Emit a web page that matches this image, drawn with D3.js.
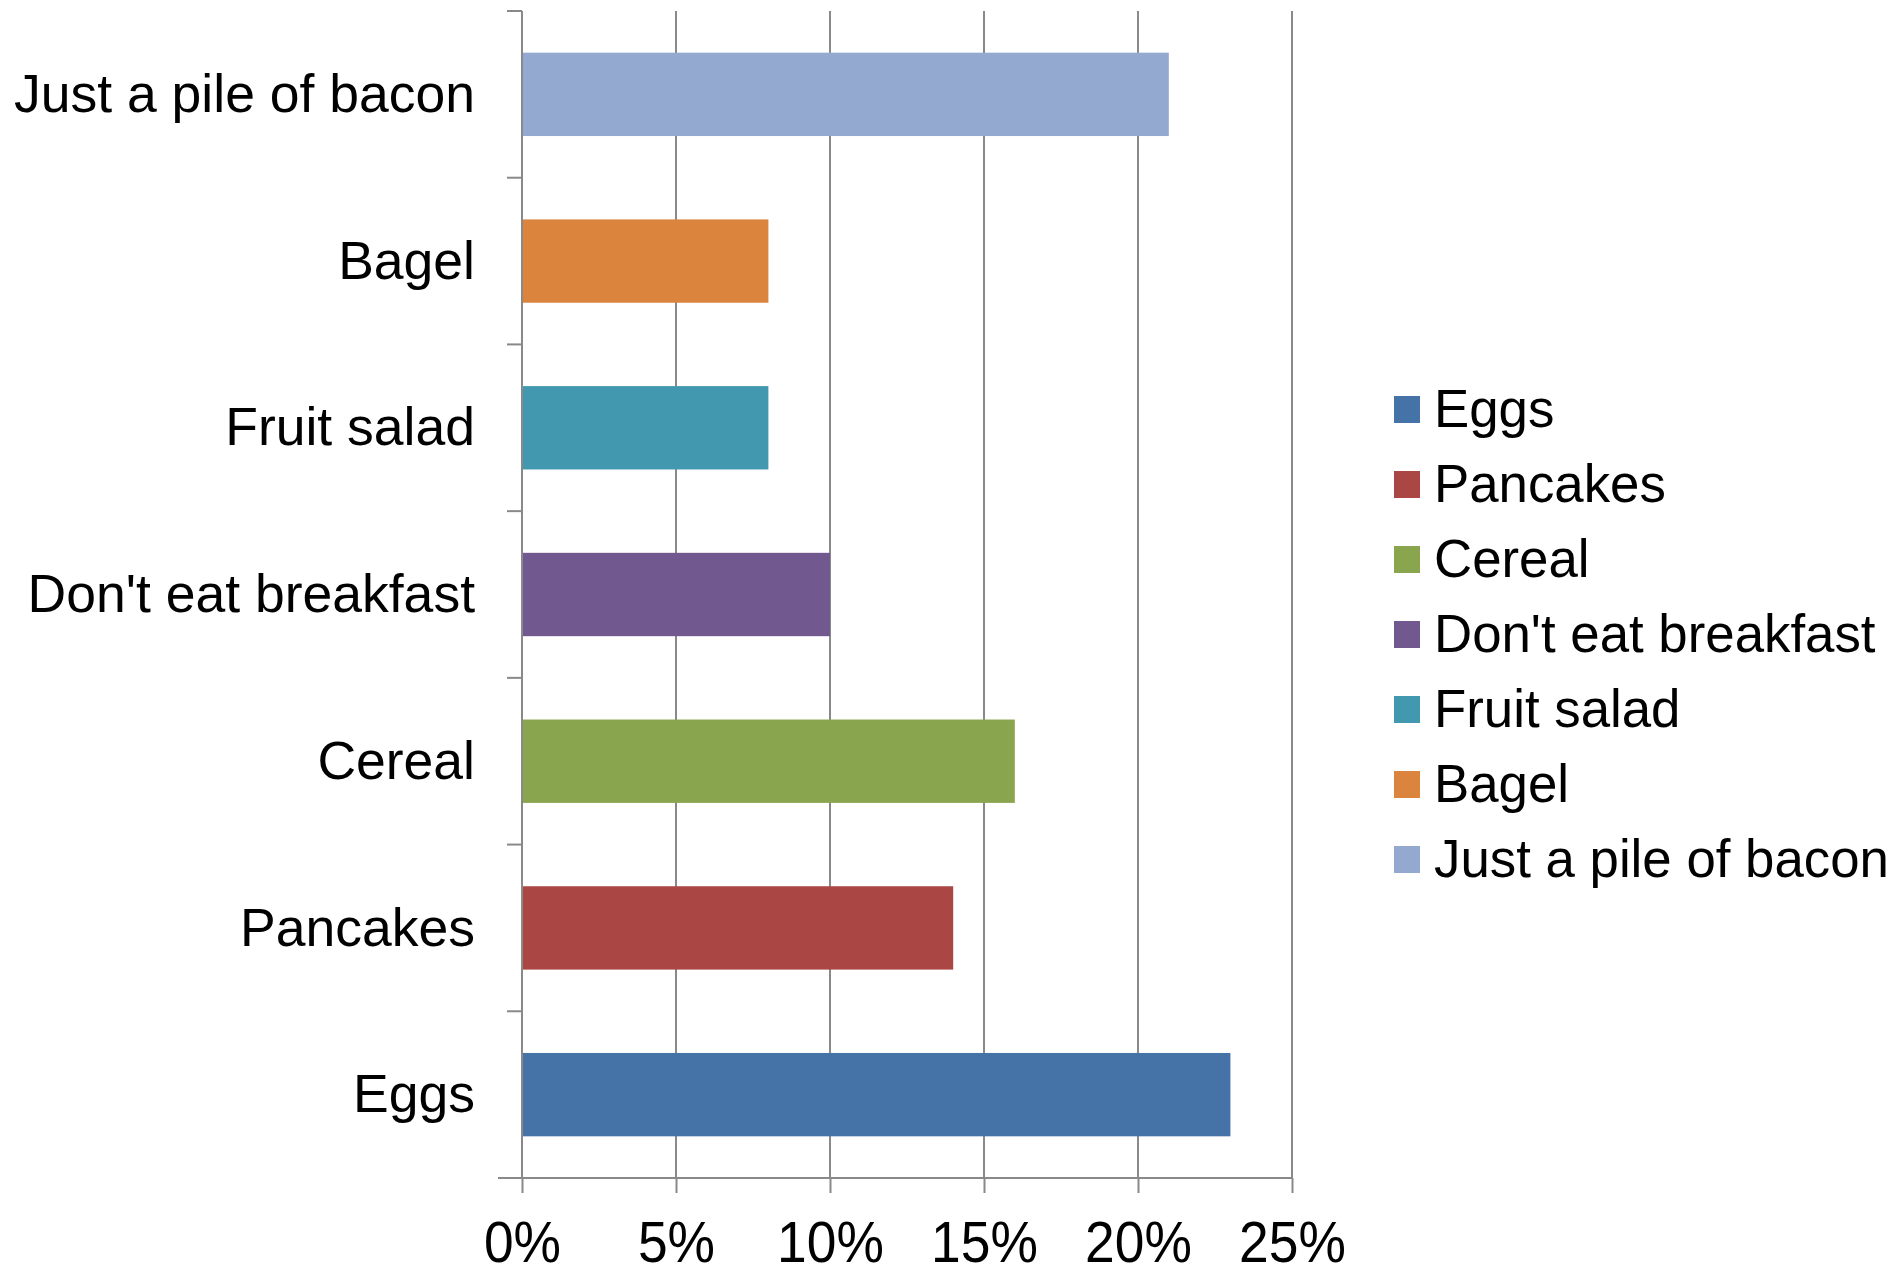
<!DOCTYPE html>
<html lang="en">
<head>
<meta charset="UTF-8">
<script src="https://d3js.org/d3.v7.min.js"></script>
<style>
  body { margin: 0; background: #fff; }
  svg { display: block; font-family: "Liberation Sans", Arial, sans-serif; }
</style>
</head>
<body>
<div id="container"></div>
<script>
// data, bottom to top as in the chart
const categories = ["Eggs", "Pancakes", "Cereal", "Don't eat breakfast", "Fruit salad", "Bagel", "Just a pile of bacon"];
const values = [23, 14, 16, 10, 8, 8, 21];
const colors = ["#4572A7", "#AA4643", "#89A54E", "#71588F", "#4198AF", "#DB843D", "#93A9CF"];
const xTicks = [0, 5, 10, 15, 20, 25];

const w = 1901, h = 1264;
const margin = { left: 522, right: 609, top: 11, bottom: 86 };
const gridColor = "#898989";

const svg = d3.select("#container").append("svg")
    .attr("width", w)
    .attr("height", h);

const x = d3.scaleLinear()
    .domain([0, 25])
    .range([margin.left, w - margin.right]);

const y = d3.scaleBand()
    .domain(categories.slice().reverse())
    .range([margin.top, h - margin.bottom])
    .paddingInner(0.5)
    .paddingOuter(0.25);

const color = d3.scaleOrdinal().domain(categories).range(colors);

const rows = categories.map((c, i) => ({ name: c, value: values[i] }));

// vertical gridlines
svg.append("g")
    .selectAll("line")
    .data(xTicks.slice(1))
    .enter()
    .append("line")
    .attr("x1", d => x(d))
    .attr("x2", d => x(d))
    .attr("y1", margin.top)
    .attr("y2", h - margin.bottom)
    .attr("stroke", gridColor)
    .attr("stroke-width", 2);

// bars
svg.append("g")
    .selectAll("rect")
    .data(rows)
    .enter()
    .append("rect")
    .attr("x", x(0))
    .attr("y", d => y(d.name))
    .attr("width", d => x(d.value) - x(0))
    .attr("height", y.bandwidth())
    .attr("fill", d => color(d.name));

// x axis
const xAxis = d3.axisBottom(x)
    .tickValues(xTicks)
    .tickSize(15)
    .tickSizeOuter(0)
    .tickFormat(d => d + "%");

const gx = svg.append("g")
    .attr("transform", "translate(0," + (h - margin.bottom) + ")")
    .call(xAxis);
gx.select(".domain").remove();
gx.selectAll(".tick line").attr("stroke", gridColor).attr("stroke-width", 2);
// tick labels look a bit tall and narrow in the original
gx.selectAll(".tick text")
    .attr("y", 0)
    .attr("dy", 0)
    .attr("transform", "translate(0,84) scale(0.92,1)")
    .style("font-size", "58px")
    .style("fill", "#000");

svg.append("line")
    .attr("x1", x(0) - 24)
    .attr("x2", x(25))
    .attr("y1", h - margin.bottom)
    .attr("y2", h - margin.bottom)
    .attr("stroke", gridColor)
    .attr("stroke-width", 2);

// y axis (labels only; ticks sit between categories)
const yAxis = d3.axisLeft(y).tickSize(0).tickPadding(47);
const gy = svg.append("g")
    .attr("transform", "translate(" + x(0) + ",0)")
    .call(yAxis);
gy.select(".domain").remove();
gy.selectAll(".tick text")
    .attr("dy", "0.33em")
    .style("font-size", "53.5px")
    .style("fill", "#000");

svg.append("line")
    .attr("x1", x(0))
    .attr("x2", x(0))
    .attr("y1", margin.top)
    .attr("y2", h - margin.bottom)
    .attr("stroke", gridColor)
    .attr("stroke-width", 2);

const boundaries = d3.range(categories.length + 1).map(i => margin.top + i * y.step());
svg.append("g")
    .selectAll("line")
    .data(boundaries.slice(0, -1))
    .enter()
    .append("line")
    .attr("x1", x(0) - 15)
    .attr("x2", x(0))
    .attr("y1", d => d)
    .attr("y2", d => d)
    .attr("stroke", gridColor)
    .attr("stroke-width", 2);

// legend
const legend = svg.append("g")
    .attr("transform", "translate(1394,396)");

const item = legend.selectAll("g")
    .data(categories)
    .enter()
    .append("g")
    .attr("transform", (d, i) => "translate(0," + i * 75 + ")");

item.append("rect")
    .attr("width", 26)
    .attr("height", 27)
    .attr("fill", d => color(d));

item.append("text")
    .attr("x", 40)
    .attr("y", 31)
    .style("font-size", "52.8px")
    .text(d => d);
</script>
</body>
</html>
